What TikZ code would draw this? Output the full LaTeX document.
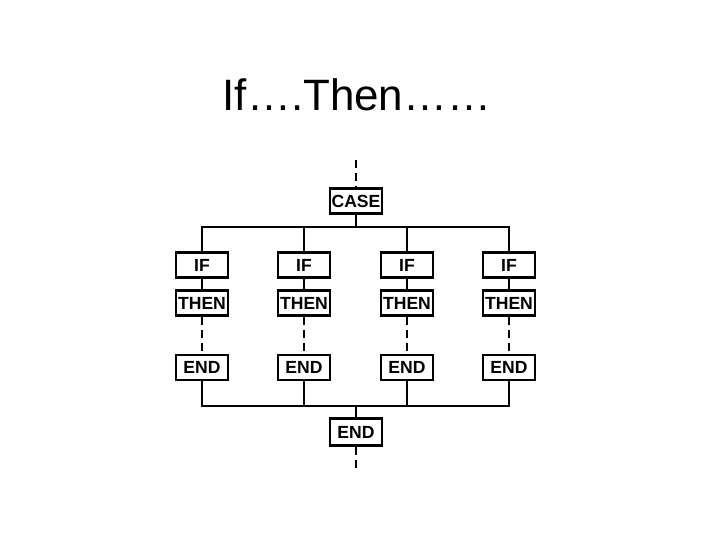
\documentclass[tikz,border=0pt]{standalone}
\usepackage{fontspec}
\setmainfont{Liberation Sans}
\usetikzlibrary{positioning, calc}
\tikzset{
  stepbox/.style={draw, line width=1.4pt, fill=white, minimum width=1.04cm, minimum height=0.5cm,
    inner sep=0pt, font=\fontsize{10}{12}\selectfont\bfseries},
  wire/.style={line width=1.1pt},
  gap/.style={line width=1.1pt, dash pattern=on 4.6pt off 2.8pt}
}
\begin{document}
\begin{tikzpicture}
    \useasboundingbox (0,0) rectangle (14.4,10.8);

    % Title
    \node[anchor=base, font=\fontsize{25}{30}\selectfont] (title) at (7.14,8.58) {If….Then……};

    % Entry and CASE box
    \coordinate (in) at (7.12,7.6);
    \node[stepbox] (case) at (7.12,6.78) {CASE};
    \draw[gap] (in) -- (case);
    \coordinate (split) at (7.12,6.26);
    \coordinate (join) at (7.12,2.68);

    % Four branches
    \foreach \i/\x in {1/4.04, 2/6.08, 3/8.14, 4/10.18} {
        \node[stepbox] (if\i) at (\x,5.50) {IF};
        \node[stepbox] (then\i) at (\x,4.74) {THEN};
        \node[stepbox] (end\i) at (\x,3.45) {END};
        \draw[wire] (if\i) -- (then\i);
        \draw[gap] (then\i) -- (end\i);
    }

    % Split bus
    \draw[wire] (case) -- (split);
    \draw[wire] (if1.north) |- (split) -| (if4.north);
    \draw[wire] (if2 |- split) -- (if2);
    \draw[wire] (if3 |- split) -- (if3);

    % Join bus
    \draw[wire] (end1.south) |- (join) -| (end4.south);
    \draw[wire] (end2 |- join) -- (end2);
    \draw[wire] (end3 |- join) -- (end3);

    % Final END and exit
    \node[stepbox, minimum height=0.54cm] (fin) at (7.12,2.16) {END};
    \draw[wire] (join) -- (fin);
    \coordinate (out) at (7.12,1.44);
    \draw[gap] (fin) -- (out);
\end{tikzpicture}
\end{document}
